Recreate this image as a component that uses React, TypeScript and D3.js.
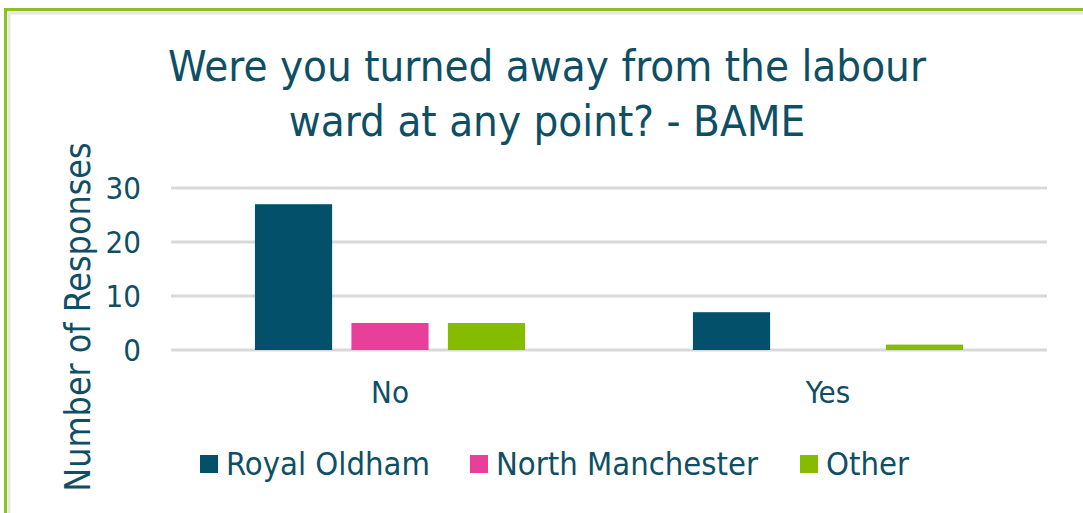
import React, { useEffect, useRef } from 'react';
import * as d3 from 'd3';

const categories = ['No', 'Yes'];
const seriesNames = ['Royal Oldham', 'North Manchester', 'Other'];
const royalOldham = [27, 7];
const northManchester = [5, 0];
const other = [5, 1];
const yTicks = [0, 10, 20, 30];
const titleLines = ['Were you turned away from the labour', 'ward at any point? - BAME'];

const colors = ['#03506b', '#e8409a', '#86bc00'];
const textColor = '#0f4f66';
const font = "'DejaVu Sans Condensed', 'DejaVu Sans', sans-serif";

const W = 1083;
const H = 513;

export default function App() {
  const svgRef = useRef<SVGSVGElement>(null);

  useEffect(() => {
    if (!svgRef.current) return;
    const svg = d3.select(svgRef.current);
    svg.selectAll('*').remove();

    // chart frame
    svg.append('rect').attr('x', 0).attr('y', 0).attr('width', W).attr('height', H).attr('fill', '#fff');
    svg.append('rect')
      .attr('x', 9).attr('y', 13).attr('width', W).attr('height', H)
      .attr('fill', 'none').attr('stroke', '#e6e6e6').attr('stroke-width', 3);
    svg.append('rect')
      .attr('x', 5.5).attr('y', 9.5).attr('width', W).attr('height', H)
      .attr('fill', 'none').attr('stroke', '#8cc21f').attr('stroke-width', 3);

    const plot = { left: 171, right: 1047, top: 188, bottom: 350 };

    const x0 = d3.scaleBand<string>().domain(categories).range([plot.left, plot.right]);
    const x1 = d3.scaleBand<string>()
      .domain(seriesNames)
      .range([0, x0.bandwidth()])
      .paddingInner(0.2)
      .paddingOuter(0.87);
    const y = d3.scaleLinear().domain([0, 30]).range([plot.bottom, plot.top]);

    // gridlines
    svg.append('g')
      .selectAll('line')
      .data(yTicks)
      .enter()
      .append('line')
      .attr('x1', plot.left)
      .attr('x2', plot.right)
      .attr('y1', (d) => y(d))
      .attr('y2', (d) => y(d))
      .attr('stroke', '#d9d9d9')
      .attr('stroke-width', 3);

    // y tick labels
    svg.append('g')
      .selectAll('text')
      .data(yTicks)
      .enter()
      .append('text')
      .attr('x', 141)
      .attr('y', (d) => y(d))
      .attr('dy', '0.36em')
      .attr('text-anchor', 'end')
      .style('font-family', font)
      .style('font-size', '31px')
      .style('fill', textColor)
      .text((d) => d);

    // bars
    const series = [royalOldham, northManchester, other];
    const groups = svg.append('g')
      .selectAll('g')
      .data(categories)
      .enter()
      .append('g')
      .attr('transform', (d) => `translate(${x0(d)},0)`);

    groups
      .selectAll('rect')
      .data((_, i) => seriesNames.map((name, s) => ({ name, value: series[s][i], color: colors[s] })))
      .enter()
      .append('rect')
      .attr('x', (d) => x1(d.name) as number)
      .attr('width', x1.bandwidth())
      .attr('y', (d) => y(d.value))
      .attr('height', (d) => y(0) - y(d.value))
      .attr('fill', (d) => d.color);

    // category labels
    svg.append('g')
      .selectAll('text')
      .data(categories)
      .enter()
      .append('text')
      .attr('x', (d) => (x0(d) as number) + x0.bandwidth() / 2)
      .attr('y', 403)
      .attr('text-anchor', 'middle')
      .style('font-family', font)
      .style('font-size', '31px')
      .style('fill', textColor)
      .text((d) => d);

    // title
    svg.append('g')
      .selectAll('text')
      .data(titleLines)
      .enter()
      .append('text')
      .attr('x', 547)
      .attr('y', (_, i) => 81 + i * 55)
      .attr('text-anchor', 'middle')
      .style('font-family', font)
      .style('font-size', '43.5px')
      .style('fill', textColor)
      .text((d) => d);

    // y axis title
    svg.append('text')
      .attr('transform', 'translate(90,317) rotate(-90)')
      .attr('text-anchor', 'middle')
      .style('font-family', font)
      .style('font-size', '35.5px')
      .style('fill', textColor)
      .text('Number of Responses');

    // legend
    const legendX = [200, 470, 800];
    const legend = svg.append('g')
      .selectAll('g')
      .data(seriesNames)
      .enter()
      .append('g')
      .attr('transform', (_, i) => `translate(${legendX[i]},455)`);

    legend.append('rect')
      .attr('width', 18)
      .attr('height', 18)
      .attr('fill', (_, i) => colors[i]);

    legend.append('text')
      .attr('x', 26)
      .attr('y', 20)
      .style('font-family', font)
      .style('font-size', '32.5px')
      .style('fill', textColor)
      .text((d) => d);
  }, []);

  return (
    <div style={{ position: 'fixed', left: 0, top: 0 }}>
      <svg ref={svgRef} width={W} height={H} style={{ display: 'block' }} />
    </div>
  );
}
